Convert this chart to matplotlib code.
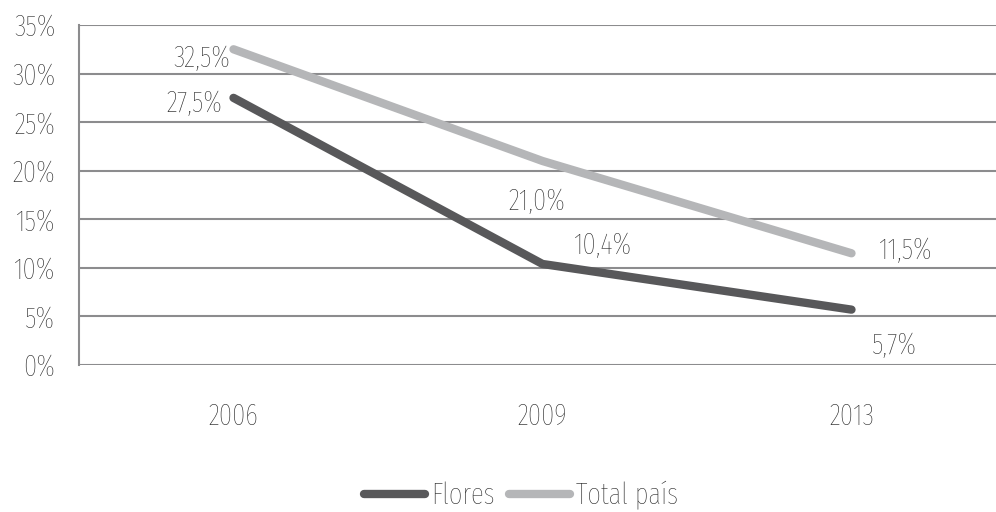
import matplotlib
matplotlib.use("Agg")
import matplotlib.pyplot as plt

years = ["2006", "2009", "2013"]
flores = [27.5, 10.4, 5.7]
total_pais = [32.5, 21.0, 11.5]
flores_labels = ["27,5%", "10,4%", "5,7%"]
total_labels = ["32,5%", "21,0%", "11,5%"]
yticks = [0, 5, 10, 15, 20, 25, 30, 35]

plt.rcParams["font.family"] = ["Fira Sans Extra Condensed", "DejaVu Sans"]
plt.rcParams["font.weight"] = "light"

dark = "#58585a"
light = "#b5b6b8"
grid_c = "#8c8c8e"
text_c = "#262626"
fs = 21

fig = plt.figure(figsize=(9.96, 5.12), dpi=100)
ax = fig.add_axes([79 / 996, 147 / 512, 927 / 996, 340 / 512])

x = range(len(years))
ax.plot(x, flores, color=dark, lw=6, solid_capstyle="round", solid_joinstyle="round",
        label="Flores", zorder=3)
ax.plot(x, total_pais, color=light, lw=6, solid_capstyle="round", solid_joinstyle="round",
        label="Total país", zorder=3)

ax.set_xlim(-0.5, 2.5)
ax.set_ylim(0, 35)
ax.set_yticks(yticks)
ax.set_yticklabels([f"{v}%" for v in yticks])
ax.set_xticks(list(x))
ax.set_xticklabels(years)
ax.yaxis.grid(True, color=grid_c, lw=1.5)
ax.set_axisbelow(True)
for s in ["top", "right", "bottom"]:
    ax.spines[s].set_visible(False)
ax.spines["left"].set_color(grid_c)
ax.spines["left"].set_linewidth(1.5)
ax.tick_params(axis="both", length=0, labelsize=fs, colors=text_c)
ax.tick_params(axis="y", pad=17)
ax.tick_params(axis="x", pad=27)

# label offsets in pixels (dx, dy down), alignment
tot_off = [(-3, 9, "right"), (-6, 41, "center"), (27, -3, "left")]
flo_off = [(-11, 6, "right"), (31, -18, "left"), (20, 36, "left")]
for i in x:
    dx, dy, ha = tot_off[i]
    ax.annotate(total_labels[i], (i, total_pais[i]), xytext=(dx * 0.72, -dy * 0.72),
                textcoords="offset points", ha=ha, va="center", fontsize=fs, color=text_c)
    dx, dy, ha = flo_off[i]
    ax.annotate(flores_labels[i], (i, flores[i]), xytext=(dx * 0.72, -dy * 0.72),
                textcoords="offset points", ha=ha, va="center", fontsize=fs, color=text_c)

fig.legend(loc="center", bbox_to_anchor=(521 / 996, 1 - 495 / 512), ncol=2, frameon=False,
           fontsize=fs, handlelength=2.1, handletextpad=0.2, columnspacing=0.5,
           labelcolor=text_c)

fig.savefig("out.png", dpi=100)
